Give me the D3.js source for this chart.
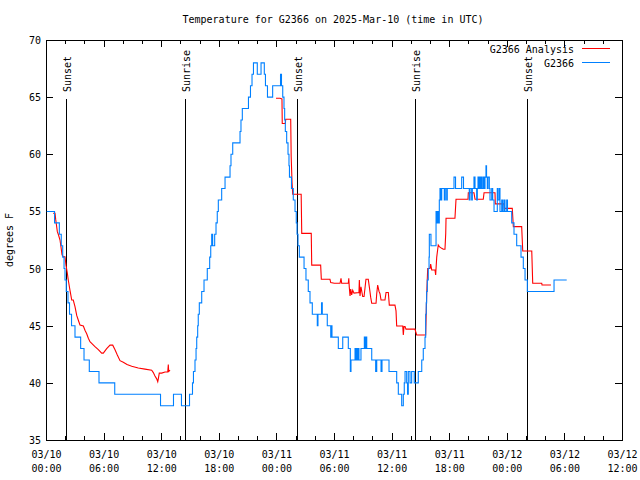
<!DOCTYPE html>
<html><head><meta charset="utf-8">
<script src="https://cdn.jsdelivr.net/npm/d3@7/dist/d3.min.js"></script>
<style>
body{margin:0;background:#fff}
text{font-family:"DejaVu Sans Mono","Liberation Mono",monospace;font-size:10px;fill:#000}
</style>
</head><body>
<svg id="chart" width="640" height="480"></svg>
<script>
// ---- data (hours since 2025-03-10 00:00 UTC) ----
const obsHours = [0.07,0.89,1.39,1.59,1.74,1.88,1.98,2.11,2.29,2.45,2.66,3.02,3.61,3.96,4.51,5.52,7.16,11.93,13.28,14.11,
 14.95,15.26,15.36,15.52,15.63,15.7,15.8,15.86,15.97,16.22,16.46,16.8,17.05,17.16,17.26,17.36,17.57,17.71,17.84,17.95,
 18.3,18.65,19.17,19.27,19.45,20.21,20.31,20.45,21.09,21.3,21.46,21.61,22.01,22.4,22.74,22.86,23.07,23.61,24.43,24.53,
 24.66,24.79,24.86,24.93,25.07,25.21,25.31,25.36,25.57,25.76,25.94,26.07,26.15,26.25,26.39,26.88,27.08,27.32,27.5,27.74,
 28.26,28.33,28.7,28.78,29.3,29.66,29.72,29.79,30.45,30.91,31.49,31.7,31.77,32.19,32.26,32.36,32.43,32.53,32.6,32.81,
 33.16,33.26,33.31,33.41,33.93,34.34,34.45,34.9,35.0,35.73,36.53,36.7,37.05,37.22,37.32,37.4,37.57,37.66,37.74,37.92,
 38.09,38.36,38.78,39.14,39.3,39.48,39.55,39.61,39.65,39.72,39.82,39.9,39.93,40.1,40.63,40.73,40.78,40.86,40.97,41.04,
 41.15,41.22,41.49,41.59,41.74,41.8,42.5,42.66,43.3,43.49,44.09,44.17,44.34,44.41,44.58,44.69,44.86,44.93,45.0,45.1,
 45.18,45.24,45.31,45.42,45.55,45.66,45.73,45.83,45.89,45.97,46.04,46.18,46.25,46.43,46.53,46.67,47.01,47.08,47.22,47.29,
 47.47,47.57,47.71,47.81,47.99,48.07,48.51,48.75,49.03,49.48,49.72,49.9,50.14,52.92,54.24];
const obsTemps = [55,54,53,52,51,50,49,48,47,46,45,44,43,42,41,40,39,38,39,38,
 39,40,41,42,43,44,45,46,47,48,49,50,51,52,53,52,53,54,55,56,
 57,58,59,60,61,62,63,64,65,66,67,68,67,68,67,66,65,66,67,66,
 65,64,63,62,61,60,59,58,57,56,55,54,53,52,51,50,49,48,47,46,
 45,46,47,46,45,44,45,44,43,44,43,41,42,43,42,43,42,43,42,43,
 44,43,44,43,42,41,42,41,42,41,40,39,38,39,40,41,40,39,41,40,
 41,40,41,42,43,44,46,47,48,49,50,51,53,52,55,54,55,54,56,57,
 56,57,56,57,56,57,58,57,58,57,56,57,56,57,58,57,56,57,58,57,
 58,57,58,57,58,57,58,59,58,57,58,57,56,57,56,55,57,56,57,55,
 56,55,56,55,56,55,54,53,52,51,50,49,48,49,49];

const anaHours = [0.76,0.94,1.01,1.18,1.28,1.46,1.56,1.67,1.8,1.98,2.08,2.22,2.32,2.5,2.68,2.84,3.02,3.2,3.36,3.54,
 3.89,4.06,4.24,4.41,4.58,4.76,5.1,5.45,5.8,5.97,6.32,6.67,6.95,7.19,7.43,7.71,8.05,8.44,8.93,9.61,
 10.31,11.01,11.18,11.35,11.53,11.64,11.7,11.8,12.05,12.4,12.68,12.74,12.78,12.92,
 13.0,
 23.96,24.38,24.58,24.61,24.93,24.97,25.49,25.54,25.63,25.7,26.58,26.64,27.63,27.68,28.61,28.68,29.58,29.66,30.03,30.63,
 30.73,30.8,31.49,31.54,31.59,31.67,31.74,31.84,31.95,32.08,32.6,32.64,32.71,32.81,32.99,33.13,33.23,33.33,33.57,33.68,
 33.82,33.93,34.38,34.45,34.55,34.69,34.79,34.9,35.31,35.42,35.66,35.76,36.35,36.46,36.53,37.16,37.22,37.29,37.4,37.5,
 38.43,38.61,39.55,39.65,39.76,40.0,40.07,40.18,40.52,40.59,40.7,40.86,40.97,41.22,41.39,41.56,41.64,41.67,42.6,42.71,
 43.96,43.99,44.58,44.69,45.55,45.63,46.77,46.8,47.71,47.74,48.57,48.68,49.55,49.66,50.6,50.7,51.64,51.67,52.6];
const anaTemps = [54.83,54.83,54.3,53.23,53.0,52.5,51.9,51.2,51.04,51.04,50.3,49.6,49.0,48.1,47.25,47.25,46.67,45.9,45.5,45.06,
 44.98,44.6,44.3,43.9,43.6,43.46,43.17,42.9,42.6,42.6,43.0,43.3,43.3,42.9,42.44,41.94,41.8,41.6,41.45,41.3,
 41.2,41.1,40.9,40.6,40.35,40.1,40.35,40.85,40.85,40.95,40.95,41.6,41.0,41.1,
 null,
 64.9,64.9,64.85,62.7,62.7,63.06,63.06,59.8,57.5,56.5,56.5,53.08,53.08,50.3,50.3,49.06,49.06,48.77,48.71,48.71,
 49.15,48.71,48.71,49.15,48.4,47.6,48.2,47.7,48.1,47.85,47.9,49.0,47.6,48.4,47.55,47.55,48.3,49.06,49.06,48.4,
 47.5,46.96,46.96,47.8,48.56,48.0,47.8,47.25,47.25,47.9,47.9,46.8,46.8,46.3,44.97,44.97,44.2,44.92,44.92,44.7,
 44.7,44.19,44.19,47.6,50.0,50.0,50.4,49.88,49.88,49.44,51.0,52.06,51.92,51.77,51.69,51.69,53.1,54.4,54.4,56.06,
 56.06,56.64,56.64,56.06,56.06,56.64,56.64,55.66,55.66,55.27,55.27,53.67,53.67,51.54,51.54,48.71,48.71,48.56,48.56];

const sunHours  = [2.12, 14.5, 26.15, 38.47, 50.15];
const sunLabels = ["Sunset","Sunrise","Sunset","Sunrise","Sunset"];
const yTickValues = [35,40,45,50,55,60,65,70];
const seriesNames = ["G2366 Analysis","G2366"];
const seriesColors = ["#ff0000","#0080ff"];
const titleText = "Temperature for G2366 on 2025-Mar-10 (time in UTC)";
const yLabel = "degrees F";

// ---- layout ----
const L=46, R=622, T=40, B=440;
const T0 = Date.UTC(2025,2,10);
const toDate = h => new Date(T0 + h*3600e3);
const x = d3.scaleUtc().domain([toDate(0), toDate(60)]).range([L,R]);
const y = d3.scaleLinear().domain([35,70]).range([B,T]);

const svg = d3.select("#chart");
svg.append("rect").attr("width",640).attr("height",480).attr("fill","#fff");

// title
svg.append("text").attr("x",333).attr("y",23).attr("text-anchor","middle").text(titleText);
// y label
svg.append("text").attr("transform","translate(13,240) rotate(-90)").attr("text-anchor","middle").text(yLabel);

// axes
const fmtD = d3.utcFormat("%m/%d"), fmtT = d3.utcFormat("%H:%M");
svg.append("g").attr("transform",`translate(0,${B})`)
  .call(d3.axisBottom(x).ticks(d3.utcHour.every(2)).tickSize(-4).tickFormat(""));
svg.append("g").attr("transform",`translate(0,${T})`)
  .call(d3.axisTop(x).ticks(d3.utcHour.every(2)).tickSize(-4).tickFormat(""));
const gx = svg.append("g").attr("transform",`translate(0,${B})`)
  .call(d3.axisBottom(x).ticks(d3.utcHour.every(6)).tickSize(-7).tickFormat(fmtD));
gx.selectAll(".tick text").each(function(d){
  const t = d3.select(this);
  t.text(null).attr("y",18).attr("dy",0);
  t.append("tspan").attr("x",0).text(fmtD(d));
  t.append("tspan").attr("x",0).attr("dy",14).text(fmtT(d));
});
svg.append("g").attr("transform",`translate(0,${T})`)
  .call(d3.axisTop(x).ticks(d3.utcHour.every(6)).tickSize(-7).tickFormat(""));
const gy = svg.append("g").attr("transform",`translate(${L},0)`)
  .call(d3.axisLeft(y).tickValues(yTickValues).tickSize(-7).tickPadding(5).tickFormat(d3.format("d")));
svg.append("g").attr("transform",`translate(${R},0)`)
  .call(d3.axisRight(y).tickValues(yTickValues).tickSize(-7).tickFormat(""));
svg.selectAll(".domain").remove();
svg.selectAll(".tick line").attr("stroke","#000").attr("shape-rendering","crispEdges");
svg.selectAll(".tick text").attr("font-family",null).attr("font-size",null);
gy.selectAll(".tick text").attr("dy","0.35em");

// border
svg.append("rect").attr("x",L).attr("y",T).attr("width",R-L).attr("height",B-T)
  .attr("fill","none").attr("stroke","#000").attr("shape-rendering","crispEdges");

// sunrise / sunset
const sun = svg.append("g");
sunHours.forEach((h,i)=>{
  const sx = Math.round(x(toDate(h))) + 0.5;
  sun.append("line").attr("x1",sx).attr("x2",sx).attr("y1",99).attr("y2",B)
    .attr("stroke","#000").attr("stroke-width",1).attr("shape-rendering","crispEdges");
  sun.append("text").attr("transform",`translate(${sx+4},92) rotate(-90)`).text(sunLabels[i]);
});

// series
const ana = anaHours.map((h,i)=>({t:toDate(h), v:anaTemps[i]}));
const obs = obsHours.map((h,i)=>({t:toDate(h), v:obsTemps[i]}));
const lineAna = d3.line().defined(d=>d.v!=null).x(d=>x(d.t)).y(d=>y(d.v));
const lineObs = d3.line().curve(d3.curveStepAfter).x(d=>x(d.t)).y(d=>y(d.v));
svg.append("path").datum(ana).attr("d",lineAna).attr("fill","none").attr("stroke",seriesColors[0]).attr("stroke-width",1.1);
svg.append("path").datum(obs).attr("d",lineObs).attr("fill","none").attr("stroke",seriesColors[1]).attr("stroke-width",1.1);

// legend
seriesNames.forEach((n,i)=>{
  const ly = 48.5 + i*14;
  svg.append("text").attr("x",574).attr("y",ly+1).attr("dy","0.35em").attr("text-anchor","end").text(n);
  svg.append("line").attr("x1",582).attr("x2",610).attr("y1",ly).attr("y2",ly)
    .attr("stroke",seriesColors[i]).attr("stroke-width",1);
});
</script>
</body></html>
